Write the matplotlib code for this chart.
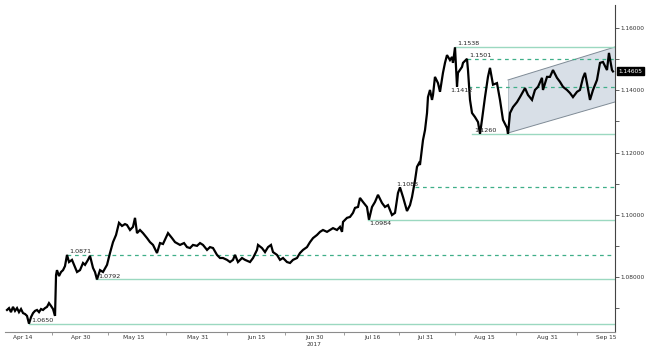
import matplotlib
matplotlib.use("Agg")
import matplotlib.pyplot as plt
from matplotlib.patches import Polygon

# ---------------- data (trading-day index since 11 Apr 2017, EUR/USD) ----------------
t_days = [0.00,0.38,0.75,1.13,1.51,1.89,2.26,2.64,3.02,3.40,3.77,4.15,4.53,4.91,5.28,5.66,6.04,6.42,6.79,7.17,7.55,7.92,8.30,8.68,9.06,
          9.25,9.43,9.81,10.19,10.57,10.94,11.32,11.70,12.26,12.83,13.21,13.77,14.34,14.72,15.28,15.66,16.23,16.60,16.98,
          17.55,18.11,18.87,19.43,20.00,20.57,21.13,21.70,22.26,22.64,23.21,23.77,24.15,24.53,25.09,25.66,26.42,26.98,27.55,28.30,28.87,29.43,30.38,31.13,31.70,32.64,33.40,33.96,34.53,35.09,35.85,36.42,
          36.98,37.74,38.30,38.87,39.62,40.19,40.75,41.51,42.08,42.64,43.02,43.58,44.34,44.91,45.85,46.42,47.17,47.36,48.11,48.68,49.25,49.81,50.19,50.94,51.51,52.08,52.83,53.40,53.96,54.72,55.28,
          55.85,56.60,57.17,57.74,58.49,59.06,59.62,60.38,60.94,61.51,62.26,62.83,63.21,63.40,64.15,64.72,65.28,65.66,66.23,66.60,67.17,67.92,68.30,68.87,69.43,70.00,70.75,71.32,71.89,72.64,73.21,73.77,74.15,74.72,75.47,
          76.04,76.42,77.00,77.36,77.74,77.92,78.49,78.87,79.25,79.43,79.81,80.19,80.38,80.75,81.32,81.70,82.26,82.64,83.02,83.58,83.96,84.15,84.53,84.91,85.09,85.85,86.04,86.79,86.98,87.36,87.74,88.30,88.87,89.25,89.62,90.19,90.75,91.13,91.70,92.45,93.02,
          93.58,94.34,94.53,94.91,95.47,96.23,96.79,97.36,97.74,98.30,99.06,99.62,100.19,100.94,101.13,101.89,102.45,103.02,103.77,104.34,104.91,105.66,106.23,106.79,107.55,108.11,108.68,109.06,109.43,110.00,110.57,111.32,111.89,112.45,113.21,113.58,114.15,114.34]

price = [1.0694,1.0700,1.0687,1.0704,1.0691,1.0700,1.0687,1.0697,1.0684,1.0681,1.0675,1.0650,1.0671,1.0684,1.0691,1.0694,1.0687,1.0697,1.0694,1.0700,1.0704,1.0716,1.0707,1.0697,1.0675,
         1.0806,1.0822,1.0803,1.0816,1.0822,1.0835,1.0871,1.0848,1.0855,1.0832,1.0816,1.0822,1.0845,1.0839,1.0855,1.0868,1.0829,1.0816,1.0792,
         1.0822,1.0816,1.0839,1.0877,1.0912,1.0935,1.0974,1.0964,1.0970,1.0967,1.0951,1.0961,1.0990,1.0941,1.0951,1.0941,1.0925,1.0912,1.0903,1.0877,1.0909,1.0906,1.0941,1.0925,1.0912,1.0903,1.0909,1.0896,1.0893,1.0903,1.0900,1.0909,
         1.0903,1.0887,1.0896,1.0893,1.0871,1.0861,1.0861,1.0855,1.0848,1.0855,1.0871,1.0848,1.0861,1.0855,1.0848,1.0861,1.0887,1.0903,1.0893,1.0880,1.0896,1.0903,1.0880,1.0871,1.0855,1.0861,1.0848,1.0845,1.0855,1.0861,1.0877,
         1.0887,1.0896,1.0912,1.0925,1.0935,1.0945,1.0951,1.0945,1.0951,1.0957,1.0951,1.0961,1.0945,1.0977,1.0990,1.0993,1.1006,1.1022,1.1025,1.1054,1.1041,1.1025,1.0984,1.1025,1.1041,1.1064,1.1038,1.1025,1.1031,1.0999,1.1006,1.1070,1.1088,1.1057,1.1012,
         1.1031,1.1057,1.1112,1.1154,1.1166,1.1160,1.1240,1.1272,1.1327,1.1378,1.1401,1.1369,1.1385,1.1443,1.1423,1.1395,1.1456,1.1488,1.1513,1.1497,1.1507,1.1488,1.1538,1.1412,1.1456,1.1475,1.1488,1.1501,1.1465,1.1369,1.1327,1.1314,1.1298,1.1260,1.1305,1.1378,1.1443,1.1472,1.1418,1.1423,1.1369,
         1.1305,1.1279,1.1260,1.1327,1.1346,1.1362,1.1378,1.1395,1.1407,1.1385,1.1369,1.1401,1.1411,1.1440,1.1401,1.1443,1.1443,1.1465,1.1440,1.1427,1.1411,1.1401,1.1391,1.1378,1.1395,1.1401,1.1440,1.1456,1.1423,1.1369,1.1401,1.1433,1.1488,1.1491,1.1465,1.1520,1.1465,1.14605]

# horizontal levels: value, start day, style, label placement
level_values = [1.0650, 1.0792, 1.0871, 1.0984, 1.1088, 1.1260, 1.1412, 1.1501, 1.1538]
level_start  = [4.15, 16.8, 11.3, 68.1, 77.0, 87.7, 87.0, 86.8, 84.5]
level_dashed = [False, False, True, False, True, False, True, True, False]
level_label_pos = ["above", "above", "above", "below", "above_right", "above", "below_right", "above", "above"]

# regression channel (day, price)
chan_x = [94.53, 114.72]
chan_upper = [1.14331, 1.15391]
chan_lower = [1.12627, 1.13624]

last_price = 1.14605

xtick_pos = [3, 14, 24, 36, 47, 58, 69, 79, 90, 102, 113]
xtick_lab = ["Apr 14", "Apr 30", "May 15", "May 31", "Jun 15", "Jun 30",
             "Jul 16", "Jul 31", "Aug 15", "Aug 31", "Sep 15"]
year_label = "2017"
yticks_major = [1.08, 1.10, 1.12, 1.14, 1.16]
yticks_minor = [1.07, 1.09, 1.11, 1.13, 1.15]

# ---------------- figure ----------------
W, H = 648, 352
fig = plt.figure(figsize=(W / 100, H / 100), dpi=100)
ax = fig.add_axes([5 / W, 1 - 332 / H, 610 / W, 327 / H])
ax.set_xlim(-0.38, 114.72)
ax.set_ylim(1.06232, 1.1674)

solid_c = "#9bd8c0"
dash_c = "#3faf88"

# channel
poly = Polygon([(chan_x[0], chan_lower[0]), (chan_x[0], chan_upper[0]),
                (chan_x[1], chan_upper[1]), (chan_x[1], chan_lower[1])],
               closed=True, facecolor="#d8dfe7", edgecolor="none", zorder=1)
ax.add_patch(poly)
ax.plot(chan_x, chan_upper, color="#7f8b96", lw=0.7, zorder=2)
ax.plot(chan_x, chan_lower, color="#7f8b96", lw=0.7, zorder=2)
ax.plot([chan_x[0], chan_x[0]], [chan_lower[0], chan_upper[0]], color="#a9b3bb", lw=0.5, zorder=2)

# levels
xend = ax.get_xlim()[1]
for v, s, d, pos in zip(level_values, level_start, level_dashed, level_label_pos):
    if d:
        ax.plot([s, xend], [v, v], color=dash_c, lw=0.9, ls=(0, (3, 3)), zorder=2.5)
    else:
        ax.plot([s, xend], [v, v], color=solid_c, lw=1.0, zorder=2.5)
    lab = f"{v:.4f}"
    if pos == "above":
        ax.annotate(lab, (s, v), xytext=(1.5, 0.6), textcoords="offset points",
                    ha="left", va="bottom", fontsize=4.6, color="#222222", zorder=4)
    elif pos == "below":
        ax.annotate(lab, (s, v), xytext=(1.0, -0.6), textcoords="offset points",
                    ha="left", va="top", fontsize=4.6, color="#222222", zorder=4)
    elif pos == "above_right":
        ax.annotate(lab, (s, v), xytext=(2.0, 0.6), textcoords="offset points",
                    ha="right", va="bottom", fontsize=4.6, color="#222222", zorder=4)
    else:  # below_right
        ax.annotate(lab, (s, v), xytext=(3.0, -1.2), textcoords="offset points",
                    ha="right", va="top", fontsize=4.6, color="#222222", zorder=4)

# price
ax.plot(t_days, price, color="black", lw=1.6, solid_joinstyle="miter", zorder=3)

# spines
for sp in ["left", "top"]:
    ax.spines[sp].set_visible(False)
ax.spines["bottom"].set_color("#8c8c8c")
ax.spines["bottom"].set_linewidth(0.8)
ax.spines["right"].set_color("#444444")
ax.spines["right"].set_linewidth(0.8)

# y axis on right
ax.yaxis.tick_right()
ax.set_yticks(yticks_major)
ax.set_yticklabels([f"{v:.5f}" for v in yticks_major])
ax.set_yticks(yticks_minor, minor=True)
ax.tick_params(axis="y", which="major", length=3, width=0.6, color="#444444",
               labelsize=4.2, labelcolor="#333333", pad=1)
ax.tick_params(axis="y", which="minor", length=3, width=0.6, color="#444444")

# x axis
ax.set_xticks(xtick_pos)
ax.set_xticklabels(xtick_lab)
mids = [(a + b) / 2 for a, b in zip(xtick_pos[:-1], xtick_pos[1:])]
ax.set_xticks(mids, minor=True)
ax.tick_params(axis="x", which="major", length=0, labelsize=4.2, labelcolor="#333333", pad=2.5)
ax.tick_params(axis="x", which="minor", length=2.5, width=0.6, color="#8c8c8c")
ax.text(xtick_pos[5], -12 / 327, year_label, transform=ax.get_xaxis_transform(),
        ha="center", va="center", fontsize=4.2, color="#333333")

# last price tag
ax.annotate(f"{last_price:.5f}", xy=(1.0, last_price), xycoords=("axes fraction", "data"),
            xytext=(2.5, 0), textcoords="offset points", ha="left", va="center",
            fontsize=4.2, color="white",
            bbox=dict(boxstyle="square,pad=0.25", fc="black", ec="black"), zorder=5,
            annotation_clip=False)

fig.savefig("out.png", dpi=100)
